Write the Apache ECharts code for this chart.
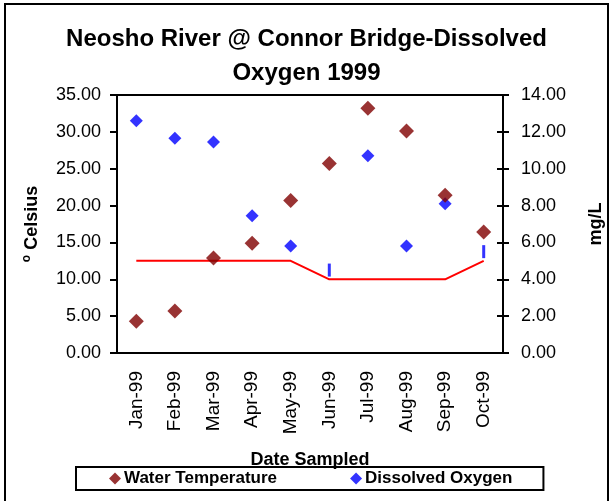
<!DOCTYPE html>
<html>
<head>
<meta charset="utf-8">
<style>
  html, body { margin: 0; padding: 0; background: #fff; }
  #chart { width: 613px; height: 501px; }
</style>
<script src="https://cdn.jsdelivr.net/npm/echarts@6/dist/echarts.min.js"></script>
</head>
<body>
<div id="chart"></div>
<script>
// months sampled
var months = ['Jan-99', 'Feb-99', 'Mar-99', 'Apr-99', 'May-99', 'Jun-99', 'Jul-99', 'Aug-99', 'Sep-99', 'Oct-99'];
// water temperature, degrees C (left axis)
var waterTemp = [4.3, 5.7, 12.9, 14.9, 20.7, 25.7, 33.2, 30.1, 21.4, 16.4];
// dissolved oxygen, mg/L (right axis), diamonds
var dissolvedOxygen = [12.6, 11.65, 11.45, 7.45, 5.8, null, 10.7, 5.8, 8.1, null];
// the two small blue dashes (Jun, Oct)
var doDash = [null, null, null, null, null, 4.5, null, null, null, 5.5];
// red standard line, mg/L
var doStandard = [5, 5, 5, 5, 5, 4, 4, 4, 4, 5];

var font = 'Liberation Sans, Arial, sans-serif';

var myChart = echarts.init(document.getElementById('chart'));
var option = {
  animation: false,
  backgroundColor: '#fff',
  textStyle: { fontFamily: font, color: '#000' },
  graphic: [
    {
      // outer frame of the chart
      type: 'rect',
      shape: { x: 5, y: 4, width: 603, height: 520 },
      style: { fill: 'none', stroke: '#000', lineWidth: 2 }
    }
  ],
  title: {
    text: 'Neosho River @ Connor Bridge-Dissolved\nOxygen 1999',
    left: 'center',
    top: 17,
    textStyle: { fontFamily: font, fontSize: 24, fontWeight: 'bold', color: '#000', lineHeight: 34 }
  },
  legend: {
    data: ['Water Temperature', 'Dissolved Oxygen'],
    left: 76,
    top: 467,
    orient: 'horizontal',
    icon: 'diamond',
    itemWidth: 12,
    itemHeight: 12,
    itemGap: 73,
    padding: [3, 31, 3, 33],
    borderColor: '#000',
    borderWidth: 2,
    textStyle: { fontFamily: font, fontSize: 17, fontWeight: 'bold', color: '#000', padding: [0, 0, 0, -2] }
  },
  grid: {
    left: 117,
    right: 104,
    top: 95,
    bottom: 148,
    show: true,
    borderColor: '#000',
    borderWidth: 2,
    backgroundColor: 'transparent'
  },
  xAxis: {
    type: 'category',
    data: months,
    boundaryGap: true,
    name: 'Date Sampled',
    nameLocation: 'middle',
    nameGap: 98,
    nameTextStyle: { fontFamily: font, fontSize: 18, fontWeight: 'bold', color: '#000' },
    axisLine: { lineStyle: { color: '#000', width: 2 } },
    axisTick: { show: false },
    axisLabel: { rotate: 90, margin: 18, fontSize: 19, color: '#000', fontFamily: font },
    splitLine: { show: false }
  },
  yAxis: [
    {
      type: 'value',
      min: 0,
      max: 35,
      interval: 5,
      position: 'left',
      name: '{sup|o} Celsius',
      nameLocation: 'middle',
      nameRotate: 90,
      nameGap: 74,
      nameTextStyle: {
        fontFamily: font, fontSize: 18, fontWeight: 'bold', color: '#000',
        rich: {
          sup: { fontSize: 12, fontWeight: 'bold', fontFamily: font, color: '#000', padding: [0, 0, 10, 0] }
        }
      },
      axisLine: { show: true, lineStyle: { color: '#000', width: 2 } },
      axisTick: { show: true, inside: false, length: 7, lineStyle: { color: '#000', width: 2 } },
      axisLabel: {
        margin: 16, fontSize: 18, color: '#000', fontFamily: font,
        formatter: function (v) { return v.toFixed(2); }
      },
      splitLine: { show: false }
    },
    {
      type: 'value',
      min: 0,
      max: 14,
      interval: 2,
      position: 'right',
      name: 'mg/L',
      nameLocation: 'middle',
      nameRotate: 90,
      nameGap: 84,
      nameTextStyle: { fontFamily: font, fontSize: 18, fontWeight: 'bold', color: '#000' },
      axisLine: { show: true, lineStyle: { color: '#000', width: 2 } },
      axisTick: { show: true, inside: false, length: 6, lineStyle: { color: '#000', width: 2 } },
      axisLabel: {
        margin: 18, fontSize: 18, color: '#000', fontFamily: font,
        formatter: function (v) { return v.toFixed(2); }
      },
      splitLine: { show: false }
    },
    {
      // inner half of the right-hand ticks (they cross the axis)
      type: 'value',
      min: 0,
      max: 14,
      interval: 2,
      position: 'right',
      axisLine: { show: false },
      axisTick: { show: true, inside: true, length: 6, lineStyle: { color: '#000', width: 2 } },
      axisLabel: { show: false },
      splitLine: { show: false }
    }
  ],
  series: [
    {
      name: 'DO Standard',
      type: 'line',
      yAxisIndex: 1,
      data: doStandard,
      symbol: 'none',
      lineStyle: { color: '#ff0000', width: 2 },
      itemStyle: { color: '#ff0000' },
      z: 2
    },
    {
      name: 'DO dash',
      type: 'scatter',
      yAxisIndex: 1,
      data: doDash,
      symbol: 'rect',
      symbolSize: [3, 13],
      itemStyle: { color: '#0000ff' },
      z: 3
    },
    {
      name: 'Dissolved Oxygen',
      type: 'scatter',
      yAxisIndex: 1,
      data: dissolvedOxygen,
      symbol: 'diamond',
      symbolSize: 13,
      itemStyle: { color: '#0000ff' },
      z: 4
    },
    {
      name: 'Water Temperature',
      type: 'scatter',
      yAxisIndex: 0,
      data: waterTemp,
      symbol: 'diamond',
      symbolSize: 15,
      itemStyle: { color: '#800000' },
      z: 5
    }
  ]
};
myChart.setOption(option);
window.addEventListener('resize', function () { myChart.resize(); });
</script>
</body>
</html>
